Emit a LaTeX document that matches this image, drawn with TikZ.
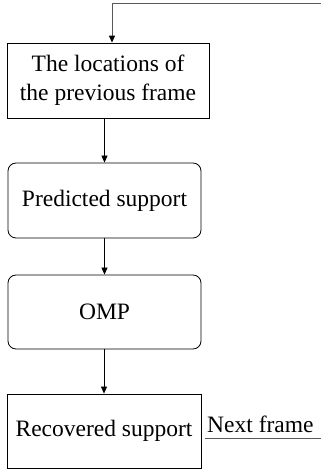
\documentclass[tikz,border=0pt]{standalone}
\usepackage{fontspec}
\setmainfont{Liberation Serif}
\usetikzlibrary{arrows.meta,positioning}
\tikzstyle{block}=[draw,line width=0.8pt,align=center,inner sep=0pt,minimum width=193pt,minimum height=75pt,font=\fontsize{23.5}{29}\selectfont]
\tikzstyle{round block} = [block, rounded corners=8pt]
\tikzstyle{label text} = [font=\fontsize{23.5}{29}\selectfont,anchor=base west,inner sep=0pt]
\tikzstyle{flow} = [draw,line width=0.8pt,-{Triangle[width=6pt,length=7pt,color=black]}]
\tikzstyle{feed} = [draw,line width=1pt,black!65]

\begin{document}
\begin{tikzpicture}[x=1pt,y=1pt]
    \useasboundingbox (0,0) rectangle (321,471);
    % First we draw the blocks
    \node[block,minimum width=202pt] (locations) at (108,390.5) {The locations of\\the previous frame};
    \node[round block] (predicted) at (104.5,270.5) {Predicted support};
    \node[round block,minimum height=74pt] (omp) at (104.5,159) {OMP};
    \node[block,minimum width=194pt,minimum height=74pt] (recovered) at (104,40) {Recovered support};
    \node[label text] (next) at (207,38) {Next frame};

    % Connect blocks with arrows
    \foreach \source/\dest in {locations/predicted, predicted/omp, omp/recovered}
        \path[flow] (\dest.north |- \source.south) -- (\dest.north);

    % Lines to and from the other frames
    \coordinate (prev) at (321,467);
    \coordinate (nextend) at (321,32.5);
    \path[flow,feed] (prev) -| ([xshift=4pt]locations.north);
    \path[feed] ([xshift=4pt]recovered.east |- nextend) -- (nextend);
\end{tikzpicture}
\end{document}
